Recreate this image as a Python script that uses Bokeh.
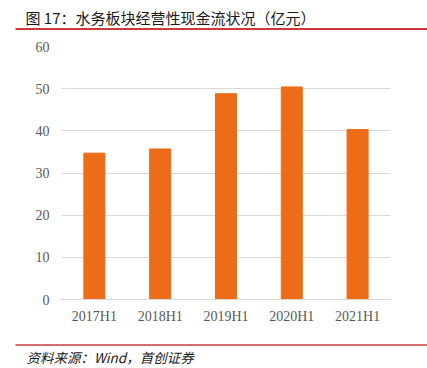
from bokeh.plotting import figure
from bokeh.models import Range1d, FixedTicker, ColumnDataSource
from bokeh.core.properties import value
from bokeh.embed import file_html
from bokeh.resources import INLINE

title_text = "图 17：水务板块经营性现金流状况（亿元）"
source_text = "资料来源：Wind，首创证券"
categories = ["2017H1", "2018H1", "2019H1", "2020H1", "2021H1"]
cash_flow = [34.7, 35.7, 48.8, 50.4, 40.3]
y_ticks = [0, 10, 20, 30, 40, 50, 60]

W = 427
RED = "#cc3b3b"
BAR = "#EC6C17"
LABEL_FONT = "Liberation Serif"
CJK = "Noto Sans CJK SC"


def deco(h):
    f = figure(width=W, height=h, output_backend="svg", toolbar_location=None,
               x_range=Range1d(0, W), y_range=Range1d(h, 0),
               x_axis_type=None, y_axis_type=None)
    f.min_border = 0
    f.min_border_left = 0
    f.min_border_right = 0
    f.min_border_top = 0
    f.min_border_bottom = 0
    f.grid.visible = False
    f.outline_line_color = None
    return f


# --- header ---
H_TOP = 38
top = deco(H_TOP)
top.text(x=[25], y=[17], text=[title_text], text_font=value(CJK), text_font_size="15px",
         text_color="#1a1a1a", text_baseline="middle", text_align="left")
top.segment(x0=[15], y0=[28.5], x1=[W], y1=[28.5], line_color=RED, line_width=2)

# --- main chart ---
H_MAIN = 297
src = ColumnDataSource(dict(cat=categories, val=cash_flow))
p = figure(width=W, height=H_MAIN, output_backend="svg", toolbar_location=None,
           x_range=categories, y_range=Range1d(0, 60))
p.min_border = 0
p.min_border_left = 61
p.min_border_right = 37
p.min_border_top = 8
p.min_border_bottom = 36
p.x_range.range_padding = 0
p.vbar(x="cat", top="val", width=0.32, source=src, color=BAR)
p.outline_line_color = None
p.xgrid.visible = False
p.ygrid.grid_line_color = "#d9d9d9"
p.ygrid.grid_line_width = 1
p.yaxis.ticker = FixedTicker(ticks=y_ticks)
p.yaxis.axis_line_color = None
p.xaxis.axis_line_color = "#d9d9d9"
for ax in (p.xaxis, p.yaxis):
    ax.major_tick_line_color = None
    ax.minor_tick_line_color = None
    ax.major_tick_out = 0
    ax.major_tick_in = 0
    ax.minor_tick_out = 0
    ax.major_label_text_font = LABEL_FONT
    ax.major_label_text_font_size = "14px"
    ax.major_label_text_color = "#595959"
p.yaxis.major_label_standoff = 12
p.xaxis.major_label_standoff = 9

# --- footer ---
H_BOT = 33
bot = deco(H_BOT)
bot.segment(x0=[15], y0=[9.5], x1=[W], y1=[9.5], line_color=RED, line_width=1.5)
bot.text(x=[26], y=[21], text=[source_text], text_font=value(CJK), text_font_size="13.5px",
         text_font_style="italic", text_color="#1a1a1a", text_baseline="middle", text_align="left")

open("out.html", "w").write(file_html([top, p, bot], INLINE))
